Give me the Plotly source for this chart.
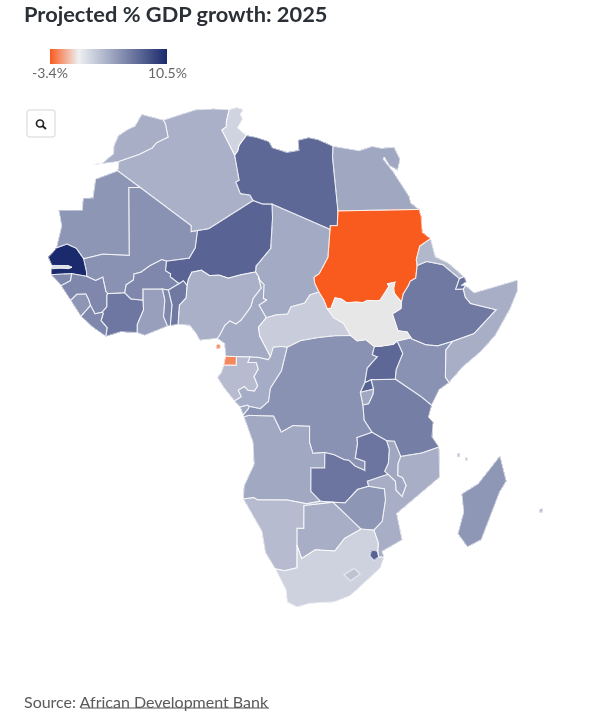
import math
import numpy as np
import plotly.graph_objects as go

TITLE = "Projected % GDP growth: 2025"
SOURCE_PREFIX = "Source: "
SOURCE_LINK = "African Development Bank"

ISO = ["DZA","AGO","BEN","BWA","BFA","BDI","CMR","CAF","TCD","COG","COD","CIV","DJI","EGY","GNQ","ERI",
       "ETH","GAB","GMB","GHA","GIN","GNB","KEN","LBR","LBY","MDG","MWI","MLI","MRT","MAR","MOZ","NAM",
       "NER","NGA","RWA","SEN","SLE","SOM","ZAF","LSO","SWZ","SDN","TZA","TGO","TUN","UGA","ZMB","ZWE","COM","MUS"]
GROWTH = [3.4,3.8,6.3,3.5,5.5,3.9,3.7,1.9,3.7,3.6,5.0,6.4,6.8,3.9,-2.4,3.0,
          6.3,2.8,1.0,4.3,5.5,5.5,5.0,5.5,7.2,4.7,3.9,5.0,4.8,3.5,3.5,2.8,
          7.4,3.4,7.5,10.5,4.8,3.5,1.6,2.4,7.5,-3.4,6.0,5.5,1.5,7.2,6.5,4.8,3.0,3.0]
NO_DATA = ["SSD"]
TICK_VALUES = [-3.4, 10.5]
TICK_LABELS = ["-3.4%", "10.5%"]

ARCS = {
"mor_c":"-2.2 35.1,-5.9 35.8,-6.8 34,-7.9 33.5,-9.3 32.5,-9.8 31,-9.7 29.8,-11.3 28.3,-12.8 28",
"mor_s":"-12.8 28,-8.67 28.7",
"mor_dza":"-2.2 35.1,-1.8 34.5,-1.2 32.6,-3 31.7,-3.6 30.9,-5.5 29.9,-8.67 28.7",
"dza_w":"-8.67 28.7,-8.67 27.3",
"dza_c":"-2.2 35.1,0 35.9,3 36.8,6 37,8.6 36.95",
"dza_tun":"8.6 36.95,8.2 35.2,8.2 34.4,7.5 33.9,8.3 32.5,9.5 30.2",
"dza_lby":"9.5 30.2,9.9 26.5,9.4 26.2,10 24.5,11.5 24.3,12 23.5",
"dza_ner":"12 23.5,5.8 19.45,4.2 19.15",
"dza_mli":"4.2 19.15,3.3 19,3.2 19.8,1.2 21,-4.8 25",
"dza_mrt":"-4.8 25,-8.67 27.3",
"tun_c":"8.6 36.95,9.8 37.3,11 37,10.5 36.3,10.9 35.6,10.1 34.3,11.5 33.15",
"tun_lby":"11.5 33.15,10.3 31.7,10 30.8,9.5 30.2",
"lby_c":"11.5 33.15,13.2 32.9,15.2 32.3,15.7 31.4,18 30.7,20 31,20 32.5,21.6 32.9,23 32.6,25.15 31.6",
"lby_egy":"25.15 31.6,24.9 30,25 22",
"lby_sdn":"25 22,25 20,24 20,24 19.5",
"lby_tcd":"24 19.5,15 23",
"lby_ner":"15 23,13.5 23,12 23.5",
"egy_c":"25.15 31.6,29 30.9,31 31.5,32.3 31.2,34.25 31.3,34.9 29.5,34.3 27.9,33.2 28.6,32.6 29.9,32.4 29.6,33.6 27.7,35.5 24,35.7 23,36.9 22",
"egy_sdn":"25 22,36.9 22",
"sdn_c":"36.9 22,37.2 21,37.4 18.9,38.6 18",
"sdn_eri":"38.6 18,37 17,36.4 15.2,36.45 14.4",
"sdn_eth":"36.45 14.4,36.1 12.7,35.3 12.3,35 11.7,34.3 10.6,34.1 9.5",
"sdn_ssd":"34.1 9.5,33.1 10.7,33 11.4,33.2 12.2,32.1 12,32.4 11.7,31.2 9.8,30.8 9.7,29.5 9.8,28.9 9.5,27.9 9.6,26.7 9.5,26 10,25.1 10.2,24.6 8.8,24.1 8.7",
"sdn_caf":"24.1 8.7,23.6 9.9,22.9 11",
"sdn_tcd":"22.9 11,22.3 12.2,22.2 13,22.9 13.5,24 15.7,24 19.5",
"eri_c":"38.6 18,39.2 15.5,41 14.6,43.1 12.7",
"eri_eth":"36.45 14.4,37.9 14.9,39 14.6,40.2 14.4,42.4 12.45",
"eri_dji":"42.4 12.45,43.1 12.7",
"dji_c":"43.1 12.7,43.4 12,42.6 11.5,43.25 11.47",
"dji_eth":"42.4 12.45,41.8 11,42.9 11",
"dji_som":"42.9 11,43.25 11.47",
"som_c":"43.25 11.47,44.5 10.45,46 10.8,48 11.2,51.2 11.9,51.1 10.4,50 8,48 4.5,46 2.4,43.5 0.5,41.55 -1.67",
"som_ken":"41.55 -1.67,41 -0.9,41 2.8,41.9 3.95",
"som_eth":"41.9 3.95,42.9 4.3,44.9 4.9,47.9 8,44 9,43.2 9.9,42.9 11",
"ken_eth":"41.9 3.95,39.8 3.4,38.1 3.6,36 4.45,35.95 4.6",
"eth_ssd":"35.95 4.6,35.3 5.4,34 5.6,33 7.9,33.7 8.4,34.1 8.6,34.1 9.5",
"ssd_ken":"35.95 4.6,34 4.2",
"ssd_uga":"34 4.2,33.5 3.75,32 3.55,30.85 3.5",
"ssd_cod":"30.85 3.5,29.6 4.45,28.4 4.3,27.45 5.05",
"ssd_caf":"27.45 5.05,26.4 6.7,25 7.5,24.1 8.7",
"caf_cod":"27.45 5.05,25.3 5.05,22.9 4.8,20.5 4.4,18.6 3.5",
"caf_cog":"18.6 3.5,17.8 3.6,16.6 3.5,16.2 2.2",
"caf_cmr":"16.2 2.2,15 4.3,14.6 5,14.4 6.2,15.5 7.5",
"caf_tcd":"15.5 7.5,17 7.9,18.6 8,19.1 9,21 9.5,21.7 10.6,22.9 11",
"tcd_cmr":"15.5 7.5,14.4 9.2,15.5 9.9,15 10.1,15 12,14.2 12.7,14.1 13.1",
"tcd_nga":"14.1 13.1,13.6 13.7",
"tcd_ner":"13.6 13.7,13.6 14.5,15.5 16.9,15.2 21,15 23",
"nga_cmr":"14.1 13.1,14.6 11.5,13.5 10.1,13.2 9,12.8 8.4,11.8 7.1,11.1 6.6,10.2 7,9.5 6.4,8.8 5,8.5 4.6",
"nga_c":"8.5 4.6,7 4.4,6 4.3,5.4 5.2,4.4 6.3,2.7 6.37",
"nga_ben":"2.7 6.37,2.75 7.5,2.7 9,3.6 10,3.6 11.7",
"nga_ner":"3.6 11.7,3.7 12.5,4.1 13.5,5.5 13.8,6.8 13.1,8.2 13.2,9.6 12.8,11.5 13.3,13.1 13.6,13.6 13.7",
"ben_ner":"3.6 11.7,3 12.3,2.4 11.9",
"ben_bfa":"2.4 11.9,0.9 11",
"ben_tgo":"0.9 11,1.6 9,1.6 6.2",
"ben_c":"1.6 6.2,2.7 6.37",
"tgo_gha":"0 11.1,0.5 9.6,0.5 7.4,1.2 6.1",
"tgo_c":"1.2 6.1,1.6 6.2",
"tgo_bfa":"0 11.1,0.9 11",
"gha_bfa":"-2.7 9.5,-2.85 11,0 11.1",
"gha_civ":"-2.7 9.5,-2.5 8.2,-3.2 6.2,-3.1 5.1",
"gha_c":"-3.1 5.1,-2 4.75,0 5.6,1.2 6.1",
"civ_c":"-7.55 4.4,-5.5 5.1,-3.1 5.1",
"civ_lbr":"-7.55 4.4,-7.5 5.6,-8.5 6.5,-8.3 7.5,-8.5 7.65",
"civ_gin":"-8.5 7.65,-7.9 8.4,-8.1 10,-8 10.2",
"civ_mli":"-8 10.2,-6.9 10.3,-5.5 10.4",
"civ_bfa":"-5.5 10.4,-4.5 9.6,-2.7 9.5",
"mli_bfa":"-5.5 10.4,-5.4 11.5,-4.4 12.2,-4.4 13,-3.4 13.3,-2.2 14.2,-0.5 15.1,0.2 14.9",
"ner_bfa":"0.2 14.9,0.2 13.6,1 13.2,1 12.8,2.4 11.9",
"mli_ner":"0.2 14.9,3.5 15.4,4.2 16.8,4.2 19.15",
"mli_mrt":"-4.8 25,-6.6 24.9,-5.5 16.3,-5.4 15.5,-9.4 15.5,-10.9 15.1,-12.2 14.75",
"mli_sen":"-12.2 14.75,-11.5 13,-11.4 12.4",
"mli_gin":"-11.4 12.4,-10 11.9,-9 12.4,-8.6 11.3,-8.3 10.5,-8 10.2",
"sen_mrt":"-16.5 16,-15 16.6,-13.5 16.1,-12.2 14.75",
"sen_c1":"-16.5 16,-17.5 14.7,-16.8 13.6",
"gmb_n":"-16.8 13.6,-15.5 13.6,-14.4 13.7,-13.8 13.5",
"gmb_s":"-16.8 13.15,-15.5 13.3,-14.3 13.3,-13.8 13.5",
"gmb_c":"-16.8 13.6,-16.8 13.15",
"sen_c2":"-16.8 13.15,-16.7 12.35",
"sen_gin":"-11.4 12.4,-13.7 12.65",
"sen_gnb":"-13.7 12.65,-16.7 12.35",
"gnb_c":"-16.7 12.35,-15.5 11.3,-15 10.95",
"gnb_gin":"-13.7 12.65,-13.7 11.7,-15 10.95",
"gin_c":"-15 10.95,-14.3 10.2,-13.3 9.05",
"gin_sle":"-13.3 9.05,-12.5 9.9,-11.2 10,-10.7 9.3,-10.3 8.5",
"gin_lbr":"-10.3 8.5,-9.5 7.4,-8.5 7.65",
"lbr_sle":"-10.3 8.5,-11.5 6.95",
"sle_c":"-11.5 6.95,-13.3 9.05",
"lbr_c":"-11.5 6.95,-9.5 5.5,-7.55 4.4",
"mrt_c":"-16.5 16,-16.2 19,-17 21.1,-13.4 21.3,-13.5 23,-12 23.1,-12 25.9,-8.67 27.3",
"cmr_c":"8.5 4.6,9.6 3.9,9.8 2.2",
"cmr_gnq":"9.8 2.2,11.35 2.17",
"cmr_gab":"11.35 2.17,13.3 2.17",
"cmr_cog":"13.3 2.17,14.5 2.1,15.9 1.8,16.2 2.2",
"gnq_gab":"11.35 2.17,11.35 1,9.6 1",
"gnq_c":"9.6 1,9.8 2.2",
"gab_c":"9.6 1,9.3 0,8.7 -0.7,9.5 -2,11 -3.9",
"gab_cog":"13.3 2.17,13 1.4,14.2 1.4,14.5 0.5,13.9 -0.5,14.4 -1.8,13.9 -2.5,13 -2.4,12.5 -1.9,11.6 -2.4,12 -3.3,11 -3.9",
"cog_c":"11 -3.9,11.8 -4.7",
"cog_ago":"11.8 -4.7,12.8 -4.45,13.1 -4.6",
"cog_cod":"18.6 3.5,17.8 0.3,16.2 -2.1,15.9 -3.9,14.7 -4.9,13.1 -4.6",
"cab_cod":"13.1 -4.6,13 -4.9,12.2 -5.8",
"cod_c":"12.2 -5.8,12.3 -6.05",
"cod_ago":"12.3 -6.05,13 -5.85,16.6 -5.9,17.7 -8.1,19.4 -7.2,21.8 -7.3,21.8 -9.5,22.3 -11,24 -10.9",
"ago_zmb":"24 -10.9,24 -13,22 -13,22 -16.2,23.4 -17.6",
"ago_nam":"11.8 -17.3,13.4 -17.1,14 -17.4,18.5 -17.4,21.4 -18,23.4 -17.6",
"ago_c":"11.8 -17.3,12 -15.5,13.6 -12.5,13.5 -9.5,12.3 -6.05",
"cod_zmb":"24 -10.9,25.3 -11.2,26.8 -11.9,27.5 -12,28.4 -12.8,29.8 -13.4,29.8 -12.2,28.4 -11.7,28.7 -9.7,28.6 -8.9,30.75 -8.2",
"zmb_tza":"30.75 -8.2,32.9 -9.4",
"zmb_mwi":"32.9 -9.4,33.3 -10.6,33.2 -12.5,32.7 -13.6,33.2 -14",
"zmb_moz":"33.2 -14,30.2 -14.9,30.4 -15.6",
"zmb_zwe":"30.4 -15.6,28.8 -16,27 -17.9,25.25 -17.8",
"zmb_nam":"23.4 -17.6,25.25 -17.8",
"nam_bwa":"25.25 -17.8,23.4 -18,21 -18.3,21 -22,20 -22,20 -24.75",
"nam_zaf":"20 -24.75,20 -28.4,18 -28.9,16.5 -28.6",
"nam_c":"11.8 -17.3,12.5 -18.5,14.5 -22.5,15 -26,16.5 -28.6",
"bwa_zaf":"20 -24.75,20.7 -26.9,22.7 -25.5,25.6 -25.7,27 -23.7,29.4 -22.2",
"bwa_zwe":"29.4 -22.2,27.7 -20.5,26 -18.6,25.25 -17.8",
"zwe_zaf":"29.4 -22.2,31.3 -22.4",
"zwe_moz":"31.3 -22.4,32.5 -21,32.9 -17.5,32.7 -16,30.4 -15.6",
"zaf_moz":"31.3 -22.4,32 -24.5,31.95 -25.9,32.1 -26.8,32.9 -26.85",
"zaf_c":"32.9 -26.85,32.4 -28.6,31 -29.9,28 -33,25.6 -34,22 -34.2,20 -34.8,18.4 -34,18.2 -32,16.5 -28.6",
"moz_c":"32.9 -26.85,32.6 -25.9,35.5 -24.1,35 -21.5,34.6 -19.8,37 -17.6,40.7 -14.6,40.44 -10.45",
"moz_tza":"40.44 -10.45,38 -11.2,34.97 -11.6",
"moz_mwi":"34.97 -11.6,34.6 -12.6,34.6 -14.2,35.3 -14.5,35.85 -15.6,35.3 -17.1,34.4 -16.2,34.3 -15,33.2 -14",
"tza_mwi":"32.9 -9.4,34 -9.5,34.97 -11.6",
"tza_c":"39.2 -4.7,38.8 -6.3,39.5 -7,39.4 -9,40.44 -10.45",
"ken_tza":"39.2 -4.7,37.7 -3.5,34 -1,33.9 -1",
"tza_uga":"33.9 -1,30.5 -1",
"tza_rwa":"30.5 -1,30.85 -2.3",
"tza_bdi":"30.85 -2.3,30.8 -3,30.2 -4.3,29.4 -4.45",
"tza_cod":"29.4 -4.45,29.6 -6.5,30.75 -8.2",
"ken_c":"41.55 -1.67,40.2 -2.6,39.2 -4.7",
"ken_uga":"34 4.2,34.9 2.5,34 0.3,33.9 -1",
"uga_cod":"30.85 3.5,30.6 2.4,31.3 2.1,29.9 0.6,29.6 -1.4",
"uga_rwa":"29.6 -1.4,30.5 -1",
"rwa_cod":"29.6 -1.4,29 -2.7",
"rwa_bdi":"29 -2.7,30.85 -2.3",
"bdi_cod":"29 -2.7,29.4 -4.45",
}
COUNTRY_ARCS = {
"MAR":"mor_c mor_s mor_dza",
"DZA":"dza_c dza_tun dza_lby dza_ner dza_mli dza_mrt dza_w mor_dza",
"TUN":"tun_c tun_lby dza_tun",
"LBY":"lby_c lby_egy lby_sdn lby_tcd lby_ner dza_lby tun_lby",
"EGY":"egy_c egy_sdn lby_egy",
"SDN":"sdn_c sdn_eri sdn_eth sdn_ssd sdn_caf sdn_tcd lby_sdn egy_sdn",
"ERI":"eri_c eri_dji eri_eth sdn_eri",
"DJI":"eri_dji dji_c dji_som dji_eth",
"SOM":"som_c som_ken som_eth dji_som",
"ETH":"eri_eth dji_eth som_eth ken_eth eth_ssd sdn_eth",
"SSD":"sdn_ssd eth_ssd ssd_ken ssd_uga ssd_cod ssd_caf",
"CAF":"sdn_caf ssd_caf caf_cod caf_cog caf_cmr caf_tcd",
"TCD":"lby_tcd sdn_tcd caf_tcd tcd_cmr tcd_nga tcd_ner",
"NER":"lby_ner tcd_ner nga_ner ben_ner ner_bfa mli_ner dza_ner",
"NGA":"tcd_nga nga_cmr nga_c nga_ben nga_ner",
"CMR":"tcd_cmr nga_cmr cmr_c cmr_gnq cmr_gab cmr_cog caf_cmr",
"BEN":"nga_ben ben_ner ben_bfa ben_tgo ben_c",
"TGO":"tgo_bfa ben_tgo tgo_c tgo_gha",
"GHA":"gha_bfa tgo_gha gha_c gha_civ",
"BFA":"civ_bfa mli_bfa ner_bfa ben_bfa tgo_bfa gha_bfa",
"CIV":"civ_c gha_civ civ_bfa civ_mli civ_gin civ_lbr",
"MLI":"dza_mli mli_ner mli_bfa civ_mli mli_gin mli_sen mli_mrt",
"MRT":"mrt_c dza_mrt mli_mrt sen_mrt",
"SEN":"sen_mrt mli_sen sen_gin sen_gnb sen_c2 gmb_s gmb_n sen_c1",
"GMB":"gmb_c gmb_s gmb_n",
"GNB":"sen_gnb gnb_gin gnb_c",
"GIN":"sen_gin mli_gin civ_gin gin_lbr gin_sle gin_c gnb_gin",
"SLE":"gin_sle lbr_sle sle_c",
"LBR":"gin_lbr civ_lbr lbr_c lbr_sle",
"GNQ":"cmr_gnq gnq_gab gnq_c",
"GAB":"cmr_gab gab_cog gab_c gnq_gab",
"COG":"cmr_cog caf_cog cog_cod cog_ago cog_c gab_cog",
"COD":"caf_cod ssd_cod uga_cod rwa_cod bdi_cod tza_cod cod_zmb cod_ago cod_c cab_cod cog_cod",
"AGO":"cod_ago ago_zmb ago_nam ago_c",
"ZMB":"cod_zmb zmb_tza zmb_mwi zmb_moz zmb_zwe zmb_nam ago_zmb",
"NAM":"ago_nam zmb_nam nam_bwa nam_zaf nam_c",
"BWA":"nam_bwa bwa_zwe bwa_zaf",
"ZWE":"zmb_zwe zwe_moz zwe_zaf bwa_zwe",
"ZAF":"nam_zaf bwa_zaf zwe_zaf zaf_moz zaf_c",
"MOZ":"zwe_moz zmb_moz moz_mwi moz_tza moz_c zaf_moz",
"MWI":"zmb_mwi tza_mwi moz_mwi",
"TZA":"ken_tza tza_c moz_tza tza_mwi zmb_tza tza_cod tza_bdi tza_rwa tza_uga",
"KEN":"ssd_ken ken_eth som_ken ken_c ken_tza ken_uga",
"UGA":"ssd_uga ken_uga tza_uga uga_rwa uga_cod",
"RWA":"uga_rwa tza_rwa rwa_bdi rwa_cod",
"BDI":"rwa_bdi tza_bdi bdi_cod",
}
EXTRA_RINGS = {
"LSO":["27 -29.6,28.5 -28.6,29.4 -29.5,28 -30.6"],
"SWZ":["31 -25.8,31.4 -25.7,31.95 -25.9,32.1 -26.8,31.4 -27.3,30.8 -26.6"],
"MDG":["49.3 -12,50.4 -15.5,49.5 -17,47.2 -24.5,45.2 -25.6,43.7 -23.4,44.4 -19.9,44 -17,46.3 -15.7,48 -13.5"],
"GNQ":["8.45 3.75,8.95 3.75,8.95 3.25,8.45 3.25"],
"COM":["43.2 -11.4,43.5 -11.4,43.5 -11.9,43.2 -11.9","44.3 -12.1,44.6 -12.1,44.6 -12.4,44.3 -12.4"],
"MUS":["55.5 -20,56 -20,56 -20.5,55.5 -20.5"],
"AGO":["11.8 -4.7,12.8 -4.45,13.1 -4.6,13 -4.9,12.2 -5.8"],
}

def parse(s):
    return [tuple(float(v) for v in p.split()) for p in s.split(",")]

def chain(names):
    arcs = [parse(ARCS[n]) for n in names]
    ring = list(arcs.pop(0))
    while arcs:
        best, rev, dist = 0, False, 1e9
        for i, a in enumerate(arcs):
            for r, e in ((False, a[0]), (True, a[-1])):
                d = math.hypot(e[0]-ring[-1][0], e[1]-ring[-1][1])
                if d < dist:
                    best, rev, dist = i, r, d
        a = arcs.pop(best)
        ring += (a[::-1] if rev else a)[1:]
    return ring

# Reference projection -> page pixels -> Mercator coordinates for the map subplot
ZOOM = 2.3
WORLD = 512 * 2 ** ZOOM
def project(lon, lat):
    d = lon - 20
    c = 0.03 if d < 0 else 0.012
    x = 297 + d * (7.07 - c * abs(lat))
    x += 7 * math.exp(-((lat - 23) / 7) ** 2) * min(max((d + 25) / 15, 0), 1)
    x += 7 * math.exp(-((lat - 11) / 6) ** 2) * min(max(d / 15, 0), 1) * min(max((40 - d) / 15, 0), 1)
    y = 373 - np.interp(lat, [-40, -34.8, -17.4, 0, 22, 37.3, 40],
                        [-266, -234, -127, 0, 162, 265, 283]) - 0.0055 * d * d
    mlon = (x - 302) / WORLD * 360
    mlat = math.degrees(2 * math.atan(math.exp((358 - y) * 2 * math.pi / WORLD)) - math.pi / 2)
    return [mlon, mlat]

features = []
for iso in ISO + NO_DATA:
    rings = []
    if iso in COUNTRY_ARCS:
        rings.append(chain(COUNTRY_ARCS[iso].split()))
    rings += [parse(s) for s in EXTRA_RINGS.get(iso, [])]
    polys = [[[project(*p) for p in r + r[:1]]] for r in rings]
    features.append({"type": "Feature", "id": iso,
                     "geometry": {"type": "MultiPolygon", "coordinates": polys}})
geojson = {"type": "FeatureCollection", "features": features}

LINE = dict(color="rgba(255,255,255,0.7)", width=1)
fig = go.Figure()
fig.add_trace(go.Choroplethmap(
    geojson=geojson, locations=ISO, z=GROWTH, zmin=TICK_VALUES[0], zmax=TICK_VALUES[1],
    colorscale=[[0, "#f95a1e"], [0.245, "#eef0f3"], [1, "#1a2a6c"]],
    marker_line=LINE, hoverinfo="location+z",
    colorbar=dict(orientation="h", x=50/604, xanchor="left", y=1-49/716, yanchor="top",
                  len=117, lenmode="pixels", thickness=15, thicknessmode="pixels",
                  xpad=0, ypad=0, outlinewidth=0, showticklabels=False, ticks=""),
))
fig.add_trace(go.Choroplethmap(
    geojson=geojson, locations=NO_DATA, z=[0]*len(NO_DATA), showscale=False,
    colorscale=[[0, "#e7e7e7"], [1, "#e7e7e7"]], marker_line=LINE, hoverinfo="location",
))

def px(x): return x / 604
def py(y): return 1 - y / 716
BTN = "#e4e4e4"
shapes = [
    dict(type="path", xref="paper", yref="paper",
         path=(f"M {px(30)} {py(110)} L {px(52)} {py(110)} Q {px(55)} {py(110)} {px(55)} {py(113)} "
               f"L {px(55)} {py(134)} Q {px(55)} {py(137)} {px(52)} {py(137)} L {px(30)} {py(137)} "
               f"Q {px(27)} {py(137)} {px(27)} {py(134)} L {px(27)} {py(113)} Q {px(27)} {py(110)} {px(30)} {py(110)} Z"),
         line=dict(color=BTN, width=1.5), fillcolor="white"),
    dict(type="circle", xref="paper", yref="paper", x0=px(36.5), x1=px(43.5), y0=py(120), y1=py(127),
         line=dict(color="#222222", width=1.7)),
    dict(type="line", xref="paper", yref="paper", x0=px(42.5), y0=py(126), x1=px(46), y1=py(129),
         line=dict(color="#222222", width=2)),
    dict(type="line", xref="paper", yref="paper", x0=px(81), y0=py(708), x1=px(269), y1=py(708),
         line=dict(color="#5a5a5a", width=1)),
]
def note(text, x, y, anchor, size, color):
    return dict(text=text, xref="paper", yref="paper", x=px(x), y=py(y), xanchor=anchor, yanchor="middle",
                showarrow=False, font=dict(family="Lato", size=size, color=color), xshift=0, borderpad=0)
fig.update_layout(
    width=604, height=716, margin=dict(l=0, r=0, t=0, b=0), paper_bgcolor="white",
    map=dict(style="white-bg", center=dict(lon=0, lat=0), zoom=ZOOM,
             domain=dict(x=[0, 1], y=[0, 1])),
    shapes=shapes,
    annotations=[
        note(f"<b>{TITLE}</b>", 23, 14, "left", 21.8, "#2b3036"),
        note(SOURCE_PREFIX + SOURCE_LINK, 23, 701, "left", 16, "#5a5a5a"),
        note(TICK_LABELS[0], 50, 72, "center", 14, "#666666"),
        note(TICK_LABELS[1], 167, 72, "center", 14, "#666666"),
    ],
)
fig.write_html("out.html", config={"displayModeBar": False},
               post_script="document.body.style.margin='0';")
